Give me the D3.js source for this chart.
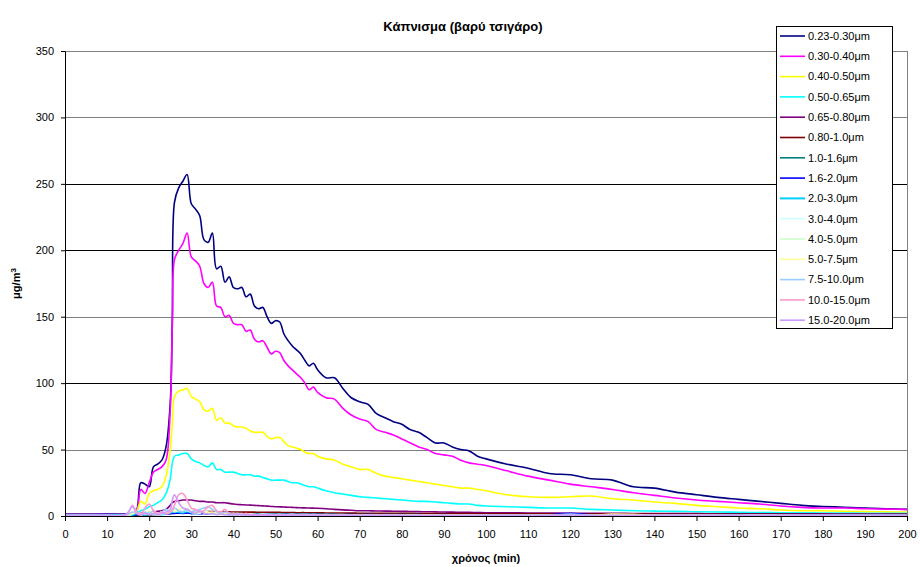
<!DOCTYPE html>
<html>
<head>
<meta charset="utf-8">
<script src="https://cdn.jsdelivr.net/npm/d3@7"></script>
<style>
  body { margin: 0; background: #fff; }
  svg { display: block; font-family: Arial, "Liberation Sans", sans-serif; }
  .tick text { font-size: 11px; fill: #000; }
</style>
</head>
<body>
<svg width="920" height="567"></svg>
<script>
// time (min)
const times = [0,5,10,14,15,16,17,18,19,20,21,22,23,24,25,25.5,26,27,28,29,30,31,32,33,34,35,36,37,38,39,40,41,42,43,44,45,46,47,48,49,50,51,52,53,54,55,56,57,58,59,60,62,64,66,68,70,72,74,76,78,80,82,84,86,88,90,92,94,96,98,100,105,110,115,120,125,130,135,140,145,150,155,160,165,170,175,180,185,190,195,200];

const labels = ["0.23-0.30μm","0.30-0.40μm","0.40-0.50μm","0.50-0.65μm","0.65-0.80μm","0.80-1.0μm","1.0-1.6μm","1.6-2.0μm","2.0-3.0μm","3.0-4.0μm","4.0-5.0μm","5.0-7.5μm","7.5-10.0μm","10.0-15.0μm","15.0-20.0μm"];
const colors = ["#000080","#ff00ff","#ffff00","#00ffff","#800080","#800000","#008080","#0000ff","#00ccff","#ccffff","#ccffcc","#ffff99","#99ccff","#ff99cc","#cc99ff"];

const s023 = [1.5,1.5,1.5,1.5,1.5,2,4,25,24,22,
  37,39,42,52,85,150,236,247,252,257,
  235,231,226,208,206,213,186,188,176,180,
  172,171,172,165,167,158,156,157,150,145,
  147,146,137,132,128,125,122,117,113,115,110,
  104,104,96,89,86,84,77,74,71,69,
  65,63,59,55,55,52,50,49,45,43,
  39,36,32,31,28,27,22,21,18,16,
  14,12.5,11,9.5,8,7.2,6.6,6,5.5,5];
const s030 = [1,1,1,1,1,1.5,3,20,17,25,
  33,35,37,42,80,145,193,200,205,213,
  195,192,188,175,172,176,158,157,150,151,
  145,144,144,139,140,133,131,132,127,122,
  124,123,117,113,110,107,104,100,95,97,93,
  89,88,81,76,73,71,65,63,61,58,
  55,52,50,47,46,45,42,40,39,38,
  34,30,27,24,22,20,17.5,15.5,13.5,12,
  11,10,9,7.5,6.5,6,6,5.5,5.2,5];
const s040 = [0.5,0.5,0.5,0.5,0.5,1,3,11,9,17,
  19,20,22,30,50,70,90,94,95,96,
  90,88,86,80,79,81,72,74,70,70,
  68,67,67,66,64,63,63,63,60,58,
  59,59,56,53,52,51,50,48,47,47,45,
  43,42,39,37,35,35,32,30,29,28,
  27,26,25,24,23,22,21,21,20,19,
  16,14.5,14,14.5,15,13,12,10.5,9.5,8,
  7,6,5.5,4.5,4,4,3.5,3.3,3.1,3];
const s050 = [0.3,0.3,0.3,0.3,0.5,1,2,4,5,7,
  8,10,12,17,28,40,45,46,47,47,
  43,41,40,38,37,40,35,35,33,33,
  33,32,31,31,31,30,30,29,28,27,
  27,27,27,26,25,25,24,23,22,22,21,
  19,17.5,16.5,15.5,14.5,14,13.5,13,12.5,12,
  11.5,11,11,10.5,10,9.5,9,9,8,7.5,
  7,6.5,6,6,5,4.5,4,3.7,3.5,3.2,
  3,2.8,2.6,2.5,2.4,2.3,2.2,2.1,2,2];
const s065 = [0.3,0.3,0.3,0.3,0.3,0.5,1,2,2,3,
  3,3.5,4,5,8,10,11,11.5,12,12,
  12,11.5,11,11,10.5,10.5,10,10,10,9.5,
  9,8.7,8.5,8.3,8.2,8,7.8,7.6,7.4,7.2,
  7,6.9,6.8,6.6,6.5,6.3,6.2,6.1,6,5.9,5.8,
  5.5,5,4.6,4.3,4,3.9,3.8,3.7,3.6,3.5,
  3.4,3.3,3.2,3.1,3,2.9,2.8,2.7,2.6,2.5,
  2.4,2.3,2.2,2.1,2,2,1.9,1.9,1.8,1.8,
  1.7,1.7,1.7,1.6,1.6,1.6,1.5,1.5,1.5,1.5];
const s080 = [0.2,0.2,0.2,0.2,0.2,0.3,0.5,0.8,0.9,1,
  1.1,1.2,1.3,1.5,2.5,3,3.3,3.5,3.6,3.6,
  3.5,3.5,3.4,3.4,3.3,3.3,3.2,3.2,3.1,3.1,
  3,3,3,2.9,2.9,2.9,2.8,2.8,2.8,2.7,
  2.7,2.7,2.6,2.6,2.6,2.5,2.5,2.5,2.4,2.4,2.4,
  2.3,2.3,2.2,2.2,2.1,2.1,2.1,2,2,2,
  2,1.9,1.9,1.9,1.8,1.8,1.8,1.8,1.7,1.7,
  1.7,1.6,1.6,1.5,1.5,1.5,1.4,1.4,1.3,1.3,
  1.3,1.2,1.2,1.2,1.1,1.1,1.1,1,1,1];
const s100 = [0.5,0.5,0.5,0.5,0.5,0.5,0.7,1,1,1.1,
  1.2,1.3,1.3,1.4,1.8,2,2.2,2.3,2.4,2.4,
  2.3,2.2,2.1,2.1,2,2,1.9,1.9,1.8,1.8,
  1.7,1.7,1.7,1.6,1.6,1.6,1.5,1.5,1.5,1.5,
  1.4,1.4,1.4,1.4,1.3,1.3,1.3,1.3,1.3,1.2,1.2,
  1.2,1.2,1.1,1.1,1.1,1.1,1,1,1,1,
  1,1,0.9,0.9,0.9,0.9,0.9,0.9,0.8,0.8,
  0.8,0.8,0.8,0.7,0.7,0.7,0.7,0.7,0.6,0.6,
  0.6,0.6,0.6,0.6,0.5,0.5,0.5,0.5,0.5,0.5];
const s160 = [0.8,0.8,1,0.8,1,0.9,1,1.2,1.3,1.2,
  1.4,1.3,1.5,1.4,1.8,2,2,2.2,2,2.3,
  1.8,2,1.7,1.9,1.6,1.8,1.5,1.7,1.5,1.4,
  1.6,1.4,1.5,1.3,1.4,1.3,1.2,1.4,1.2,1.3,
  1.2,1.1,1.3,1.1,1.2,1,1.1,1.2,1,1.1,1,
  1.1,0.9,1,1,0.9,1.1,0.9,1,0.9,1,
  0.9,1,0.8,0.9,1,0.8,0.9,0.8,0.9,0.8,
  0.9,0.8,0.9,2,0.8,0.7,0.8,0.7,0.8,0.7,
  0.7,0.8,0.7,0.6,0.7,0.6,0.7,0.6,0.7,0.6];
const s200 = [0.5,0.6,0.5,0.6,0.8,1,2,1.5,1,1.5,
  2,1.5,1.2,1.8,2.5,3,3.5,3,2.5,3.5,
  2.5,2,2.5,3,2,1.8,1.5,2,1.5,1.2,
  1.5,1.2,1.3,1.1,1.2,1,1.1,1,1.2,1,
  1,0.9,1,0.8,0.9,1,0.8,0.9,0.8,0.9,0.8,
  0.8,0.7,0.8,0.7,0.8,0.7,0.7,0.8,0.6,0.7,
  0.7,0.6,0.7,0.6,0.6,0.7,0.6,0.6,0.5,0.6,
  0.6,0.5,0.6,0.5,0.5,0.5,0.5,0.5,0.4,0.5,
  0.4,0.4,0.5,0.4,0.4,0.4,0.4,0.4,0.4,0.4];
const s300 = [0.3,0.3,0.3,0.3,0.5,2,3,1,2,3,
  2,1,2,3,4,5,4,5,4,6,
  4,3,2,4,3,2,3,2,1.5,2,
  1.5,1,1.2,1,1.5,1,1,1.2,1,0.8,
  0.8,0.8,0.7,0.8,0.7,0.7,0.7,0.6,0.7,0.6,0.6,
  0.6,0.5,0.6,0.5,0.5,0.5,0.5,0.5,0.5,0.5,
  0.5,0.4,0.5,0.4,0.4,0.4,0.4,0.4,0.4,0.4,
  0.4,0.4,0.4,0.4,0.3,0.3,0.3,0.3,0.3,0.3,
  0.3,0.3,0.3,0.3,0.3,0.3,0.3,0.3,0.3,0.3];
const s400 = [0.2,0.2,0.2,0.2,0.4,1.5,2.5,1,1.5,2,
  1.5,1,1.5,2,3,4,3,4,3.5,4,
  3,2,2.5,3,2,1.5,2,1.5,1,1.5,
  1,1,1,0.8,1.2,0.8,0.8,1,0.7,0.7,
  0.7,0.6,0.6,0.6,0.6,0.5,0.5,0.5,0.5,0.5,0.5,
  0.5,0.4,0.4,0.4,0.4,0.4,0.4,0.4,0.4,0.4,
  0.4,0.3,0.3,0.3,0.3,0.3,0.3,0.3,0.3,0.3,
  0.3,0.3,0.3,0.3,0.3,0.3,0.3,0.3,0.3,0.3,
  0.3,0.3,0.3,0.3,0.2,0.2,0.2,0.2,0.2,0.2];
const s500 = [0.3,0.3,0.3,0.3,0.5,2,3,1.5,2,4,
  2,1.5,3,2,3,5,4,5,6,5,
  4,3,4,3,2.5,3,2,2.5,2,1.5,
  2,1.5,1.5,1.2,1.5,1.2,1,1.5,1,1.2,
  1,1.2,1,1,1.2,0.9,1,1.1,0.9,1,0.9,
  1,0.8,1,0.8,0.9,0.8,0.9,0.7,0.8,0.7,
  0.8,0.7,0.7,0.8,0.6,0.7,0.6,0.7,0.6,0.6,
  0.6,0.6,0.5,0.6,0.5,1.5,1.2,0.5,0.5,0.5,
  0.5,0.4,0.5,0.4,0.4,0.4,0.4,0.4,0.4,0.4];
const s750 = [0.3,0.3,0.3,0.3,1,3,2,1,3,2,
  4,2,3,5,3,4,6,4,3,5,
  3,4,5,6,7,5,3,2,3,2,
  1.5,2,1,1.5,1,1.2,0.8,1,1.5,0.8,
  0.8,0.7,0.8,0.6,0.7,0.6,0.6,0.7,0.5,0.6,0.5,
  0.5,0.5,0.5,0.5,0.4,0.4,0.4,0.4,0.4,0.4,
  0.4,0.4,0.4,0.3,0.3,0.3,0.3,0.3,0.3,0.3,
  0.3,0.3,0.3,1.5,0.3,0.3,0.3,0.3,0.3,0.3,
  0.3,0.3,0.3,0.3,0.3,0.3,0.3,0.3,0.3,0.3];
const s1000 = [0.3,0.3,0.3,0.3,2,8,2,1,6,9,
  4,2,3,1.5,3,5,8,16,17,12,
  6,5,3,4,7,8,4,3,5,2,
  1,1.5,1,2,1,1,0.8,1,0.8,0.6,
  0.6,0.6,0.5,0.5,0.5,0.5,0.5,0.5,0.4,0.4,0.4,
  0.4,0.4,0.4,0.4,0.4,0.3,0.3,0.3,0.3,0.3,
  0.3,0.3,0.3,0.3,0.3,0.3,0.3,0.3,0.3,0.3,
  0.3,0.3,0.3,0.3,0.3,0.3,0.3,0.3,0.3,0.3,
  0.3,0.3,0.3,0.3,0.3,0.3,0.3,0.3,0.3,0.3];
const s1500 = [0.3,0.3,0.3,0.3,3,7,4,1,2,1,
  2,1,2,3,5,12,16,10,6,5,
  3,2,4,2,1.5,2,1,1.5,1,1,
  1,0.8,1,0.7,0.8,0.6,0.7,0.6,0.6,0.5,
  0.5,0.5,0.5,0.5,0.5,0.5,0.5,0.5,0.5,0.5,0.5,
  0.5,0.5,0.5,0.5,0.5,0.5,0.5,0.5,0.5,0.5,
  0.4,0.4,0.4,0.4,0.4,0.4,0.4,0.4,0.4,0.4,
  0.4,0.4,0.4,0.4,0.4,0.4,0.4,0.4,0.4,0.4,
  0.4,0.4,0.4,0.4,0.4,0.4,0.4,0.4,0.4,0.4];

const values = [s023,s030,s040,s050,s065,s080,s100,s160,s200,s300,s400,s500,s750,s1000,s1500];
const yTicks = [0,50,100,150,200,250,300,350];
const xTicks = d3.range(0, 201, 10);
const gridGrey = [50,150,300,350];

const svg = d3.select("svg"),
      margin = {top: 51, right: 13, bottom: 51, left: 65},
      width = +svg.attr("width") - margin.left - margin.right,
      height = +svg.attr("height") - margin.top - margin.bottom;

const g = svg.append("g").attr("transform", `translate(${margin.left},${margin.top})`);

const x = d3.scaleLinear().domain([0, 200]).range([0, width]);
const y = d3.scaleLinear().domain([0, 350]).range([height, 0]);

// gridlines
g.selectAll(".grid")
  .data(yTicks.filter(d => d > 0))
  .join("line")
    .attr("class", "grid")
    .attr("x1", 0).attr("x2", width)
    .attr("y1", d => Math.round(y(d)) + 0.5)
    .attr("y2", d => Math.round(y(d)) + 0.5)
    .attr("stroke", d => gridGrey.includes(d) ? "#808080" : "#000")
    .attr("stroke-width", 1);

// right border
g.append("line")
  .attr("x1", Math.round(width) + 0.5).attr("x2", Math.round(width) + 0.5)
  .attr("y1", 0).attr("y2", height)
  .attr("stroke", "#808080");

// series (smoothed like the spreadsheet lines)
const line = d3.line()
  .x((d, i) => x(times[i]))
  .y(d => y(Math.max(0, d)))
  .curve(d3.curveCatmullRom.alpha(0.5));

g.selectAll(".series")
  .data(values)
  .join("path")
    .attr("class", "series")
    .attr("fill", "none")
    .attr("stroke", (d, i) => colors[i])
    .attr("stroke-width", (d, i) => i === 8 ? 2 : 1.6)
    .attr("stroke-linejoin", "round")
    .attr("d", line);

// axes
g.append("g")
  .attr("transform", `translate(0,${height})`)
  .call(d3.axisBottom(x).tickValues(xTicks).tickSize(5).tickPadding(9).tickFormat(d3.format("d")))
  .call(a => a.select(".domain").attr("stroke", "#000"));

g.append("g")
  .call(d3.axisLeft(y).tickValues(yTicks).tickSize(4).tickPadding(7).tickFormat(d3.format("d")))
  .call(a => a.select(".domain").attr("stroke", "#000"));

g.selectAll(".tick text").attr("font-family", "Arial, 'Liberation Sans', sans-serif");

// titles
svg.append("text")
  .attr("x", 463).attr("y", 31)
  .attr("text-anchor", "middle")
  .attr("font-size", 13).attr("font-weight", "bold")
  .text("Κάπνισμα (βαρύ τσιγάρο)");

svg.append("text")
  .attr("x", margin.left + width / 2).attr("y", 562)
  .attr("text-anchor", "middle")
  .attr("font-size", 11).attr("font-weight", "bold")
  .text("χρόνος (min)");

const yl = svg.append("text")
  .attr("transform", `translate(20,${margin.top + height / 2}) rotate(-90)`)
  .attr("text-anchor", "middle")
  .attr("font-size", 11).attr("font-weight", "bold");
yl.append("tspan").text("μg/m");
yl.append("tspan").attr("dy", -4).attr("font-size", 8).text("3");

// legend
const lg = svg.append("g").attr("transform", "translate(776,26)");
lg.append("rect")
  .attr("x", 0.5).attr("y", 0.5)
  .attr("width", 116).attr("height", 302)
  .attr("fill", "#fff").attr("stroke", "#000");

const item = lg.selectAll(".legend")
  .data(labels)
  .join("g")
    .attr("class", "legend")
    .attr("transform", (d, i) => `translate(0,${10 + i * 20.3})`);

item.append("line")
  .attr("x1", 4).attr("x2", 29)
  .attr("stroke", (d, i) => colors[i])
  .attr("stroke-width", (d, i) => i === 8 ? 2 : 1.6);

item.append("text")
  .attr("x", 32)
  .attr("dy", ".35em")
  .attr("font-size", 11)
  .text(d => d);
</script>
</body>
</html>
